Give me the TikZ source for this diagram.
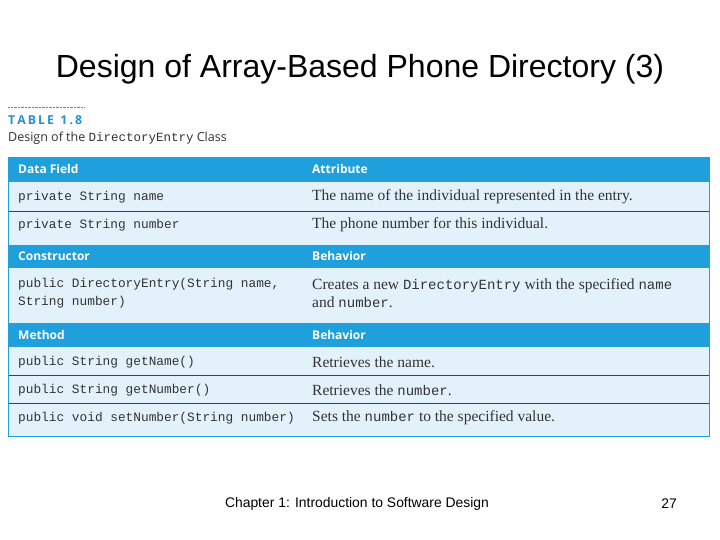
\documentclass[tikz,border=0pt]{standalone}
\usepackage{fontspec}
\setmainfont{Liberation Serif}
\setsansfont{Liberation Sans}
\setmonofont{Liberation Mono}
\newfontfamily\hdr{Open Sans}
\newcommand\mcode[1]{{\ttfamily\fontsize{14}{15}\selectfont #1}}
\definecolor{hblue}{HTML}{1FA0DC}
\definecolor{rblue}{HTML}{E3F1FB}
\definecolor{tblue}{HTML}{2A8FCF}
\tikzset{
 hd/.style={anchor=west,text=white,font=\hdr\bfseries\fontsize{12}{14}\selectfont,inner sep=0},
 cd/.style={anchor=west,font=\ttfamily\fontsize{12.8}{18}\selectfont,inner sep=0,align=left,text=black!80},
 tx/.style={anchor=west,font=\fontsize{15.5}{18}\selectfont,inner sep=0,align=left,text=black!80},
 sep/.style={draw=black!75,line width=0.7pt}
}
\begin{document}
\begin{tikzpicture}[x=1pt,y=-1pt]
\useasboundingbox (0,0) rectangle (720,540);
\node[font=\sffamily\fontsize{32}{36}\selectfont] (title) at (360,69) {Design of Array-Based Phone Directory (3)};
\draw[densely dotted,black!50] (8,107) -- (84,107);
\node[anchor=west,inner sep=0,text=tblue,font=\hdr\bfseries\fontsize{12.3}{14}\selectfont] (tab) at (8,120) {T\,A\,B\,L\,E\ \ 1\,.\,8};
\node[anchor=west,inner sep=0,font=\hdr\fontsize{12.5}{14}\selectfont,text=black!80] (cap) at (8,138) {Design of the {\ttfamily DirectoryEntry} Class};
\fill[rblue] (8,157) rectangle (709,436);
\fill[hblue] (8,157) rectangle (709,182);
\fill[hblue] (8,245) rectangle (709,268);
\fill[hblue] (8,323) rectangle (709,347);
\draw[sep] (8,211) -- (709,211);
\draw[sep] (8,375) -- (709,375);
\draw[sep] (8,403) -- (709,403);
\draw[hblue,line width=0.8pt] (8,157) rectangle (709,436);
\node[hd] (h1) at (18,169) {Data Field};
\node[hd] (h2) at (312,169) {Attribute};
\node[hd] (h3) at (18,256) {Constructor};
\node[hd] (h4) at (312,256) {Behavior};
\node[hd] (h5) at (18,335) {Method};
\node[hd] (h6) at (312,335) {Behavior};
\node[cd] (a1) at (18,197) {private String name};
\node[tx] (b1) at (312,197) {The name of the individual represented in the entry.};
\node[cd] (a2) at (18,225) {private String number};
\node[tx] (b2) at (312,225) {The phone number for this individual.};
\node[cd] (a3) at (18,293) {public DirectoryEntry(String name,\\String number)};
\node[tx] (b3) at (312,293) {Creates a new \mcode{DirectoryEntry} with the specified \mcode{name}\\and \mcode{number}.};
\node[cd] (a4) at (18,362) {public String getName()};
\node[tx] (b4) at (312,362) {Retrieves the name.};
\node[cd] (a5) at (18,390) {public String getNumber()};
\node[tx] (b5) at (312,390) {Retrieves the \mcode{number}.};
\node[cd] (a6) at (18,418) {public void setNumber(String number)};
\node[tx] (b6) at (312,418) {Sets the \mcode{number} to the specified value.};
\node[font=\sffamily\fontsize{13.9}{16}\selectfont] (foot) at (357,504) {Chapter 1: Introduction to Software Design};
\node[font=\sffamily\fontsize{13.9}{16}\selectfont] (pg) at (669,504) {27};
\end{tikzpicture}
\end{document}
